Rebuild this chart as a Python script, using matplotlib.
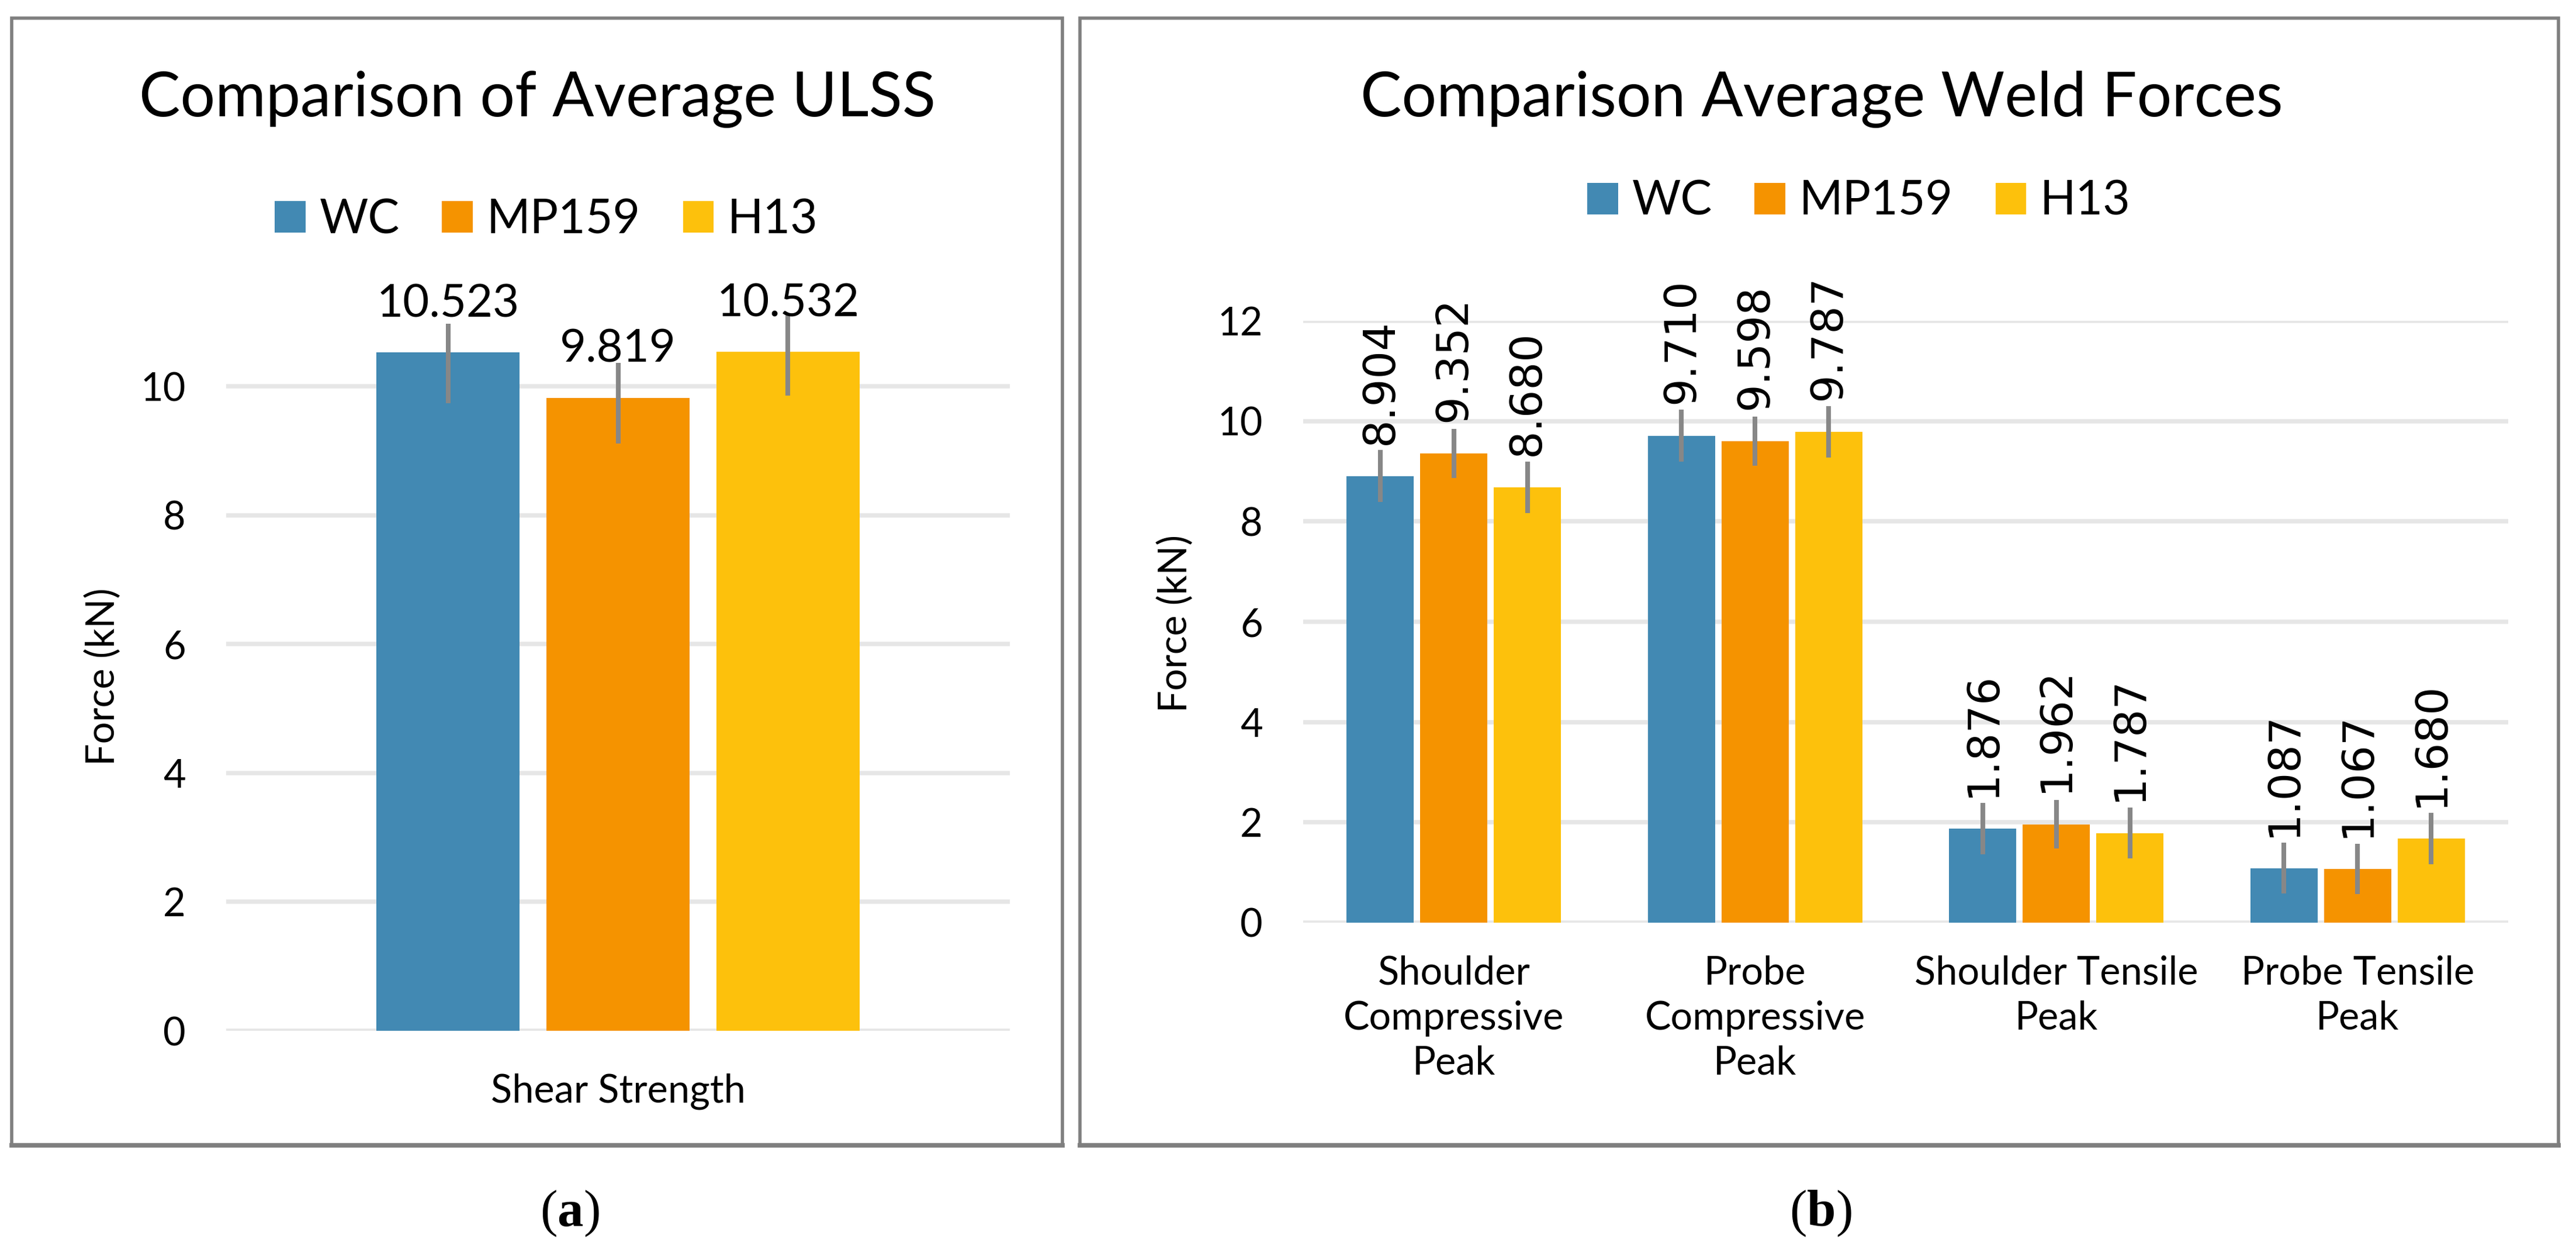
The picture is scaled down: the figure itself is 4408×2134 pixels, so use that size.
import numpy as np
import matplotlib
matplotlib.use("Agg")
import matplotlib.pyplot as plt
from matplotlib.patches import Patch, Rectangle

plt.rcParams['font.family'] = ['Lato', 'DejaVu Sans']
plt.rcParams['mathtext.fontset'] = 'custom'
plt.rcParams['mathtext.rm'] = 'Liberation Serif'
plt.rcParams['mathtext.bf'] = 'Liberation Serif:bold'

# data
materials = ['WC', 'MP159', 'H13']
colors = ['#4289B3', '#F59300', '#FDC10C']

ulss = [10.523, 9.819, 10.532]
ulss_err_low = [0.79, 0.71, 0.68]
ulss_err_high = [0.45, 0.54, 0.57]

categories = ['Shoulder\nCompressive\nPeak', 'Probe\nCompressive\nPeak',
              'Shoulder Tensile\nPeak', 'Probe Tensile\nPeak']
wc_force = [8.904, 9.710, 1.876, 1.087]
mp159_force = [9.352, 9.598, 1.962, 1.067]
h13_force = [8.680, 9.787, 1.787, 1.680]
wc_err = [0.52, 0.52, 0.51, 0.51]
mp159_err = [0.49, 0.49, 0.48, 0.50]
h13_err = [0.51, 0.51, 0.51, 0.51]

GRID = '#E6E6E6'
ERR = '#878787'
BORDER = '#7F7F7F'

W, H = 4408, 2134
fig = plt.figure(figsize=(W / 200, H / 200), dpi=200)


def px(x0, y0, x1, y1):
    # pixel box -> figure fraction [left, bottom, width, height]
    return [x0 / W, 1 - y1 / H, (x1 - x0) / W, (y1 - y0) / H]


def style_axes(ax, ymax):
    ax.set_ylim(0, ymax)
    for s in ax.spines.values():
        s.set_visible(False)
    ax.set_yticks(np.arange(0, ymax + 0.01, 2))
    ax.yaxis.grid(True, color=GRID, lw=2.7)
    ax.set_axisbelow(True)
    ax.tick_params(axis='y', length=0, pad=25, labelsize=24)
    ax.tick_params(axis='x', length=0, labelsize=24)


# panel borders (bottom edge a bit heavier, like the source)
for x0, x1 in [(20, 1818), (1848, 4378)]:
    fig.patches.append(Rectangle((x0 / W, 1 - 1960 / H), (x1 - x0) / W, (1960 - 31) / H,
                                 transform=fig.transFigure, fill=False,
                                 edgecolor=BORDER, lw=2.0))
    fig.lines.append(plt.Line2D([x0 / W, x1 / W], [1 - 1960 / H, 1 - 1960 / H],
                                transform=fig.transFigure, color=BORDER, lw=2.8))

# ---- panel (a)
ymax_a = 11.5
ax1 = fig.add_axes(px(387, 1764 - ymax_a * 110.3, 1728, 1764))
style_axes(ax1, ymax_a)
ax1.set_yticks([0, 2, 4, 6, 8, 10])
ax1.set_xlim(-0.5, 0.5)
for j, m in enumerate(materials):
    x = (j - 1) * 0.217
    ax1.bar(x, ulss[j], width=0.182, color=colors[j], zorder=2)
    ax1.errorbar(x, ulss[j], yerr=[[ulss_err_low[j]], [ulss_err_high[j]]],
                 fmt='none', ecolor=ERR, elinewidth=2.9, capsize=0, zorder=3)
    ax1.annotate(f'{ulss[j]:.3f}', (x, ulss[j]), xytext=(0, 22),
                 textcoords='offset points', ha='center', va='baseline',
                 fontsize=28, annotation_clip=False)
ax1.set_xticks([0])
ax1.set_xticklabels(['Shear Strength'])
ax1.tick_params(axis='x', pad=26)

fig.text(920 / W, 1 - 170 / H, 'Comparison of Average ULSS', ha='center', va='center', fontsize=38)
fig.text(177 / W, 1 - 1158 / H, 'Force (kN)', rotation=90, ha='center', va='center', fontsize=24)
handles = [Patch(facecolor=c, edgecolor='none') for c in colors]
fig.legend(handles, materials, loc='center', bbox_to_anchor=(935 / W, 1 - 376 / H),
           ncol=3, frameon=False, fontsize=29, handlelength=0.65, handleheight=0.65,
           handletextpad=0.3, columnspacing=0.9)

# ---- panel (b)
ax2 = fig.add_axes(px(2230, 549, 4292, 1579))
style_axes(ax2, 12)
ax2.set_xlim(-0.5, 3.5)
xs = np.arange(len(categories))
series = [wc_force, mp159_force, h13_force]
errs = [wc_err, mp159_err, h13_err]
for j, m in enumerate(materials):
    xj = xs + (j - 1) * 0.244
    ax2.bar(xj, series[j], width=0.223, color=colors[j], zorder=2)
    ax2.errorbar(xj, series[j], yerr=errs[j], fmt='none', ecolor=ERR,
                 elinewidth=2.9, capsize=0, zorder=3)
    for x, v in zip(xj, series[j]):
        ax2.annotate(f'{v:.3f}', (x, v), xytext=(0, 19.5), textcoords='offset points',
                     rotation=90, ha='center', va='bottom', fontsize=27,
                     family='DejaVu Sans', annotation_clip=False)
ax2.set_xticks(xs)
ax2.set_xticklabels(categories, linespacing=1.3)
ax2.tick_params(axis='x', pad=20)

fig.text(3117 / W, 1 - 170 / H, 'Comparison Average Weld Forces', ha='center', va='center', fontsize=38)
fig.text(2012 / W, 1 - 1067 / H, 'Force (kN)', rotation=90, ha='center', va='center', fontsize=24)
fig.legend(handles, materials, loc='center', bbox_to_anchor=(3181 / W, 1 - 345 / H),
           ncol=3, frameon=False, fontsize=29, handlelength=0.65, handleheight=0.65,
           handletextpad=0.3, columnspacing=0.9)

# captions
fig.text(975 / W, 1 - 2077 / H, r'($\mathbf{a}$)', ha='center', va='center',
         fontsize=32, family='Liberation Serif')
fig.text(3115 / W, 1 - 2077 / H, r'($\mathbf{b}$)', ha='center', va='center',
         fontsize=32, family='Liberation Serif')

fig.savefig('out.png', dpi=200, facecolor='white')
